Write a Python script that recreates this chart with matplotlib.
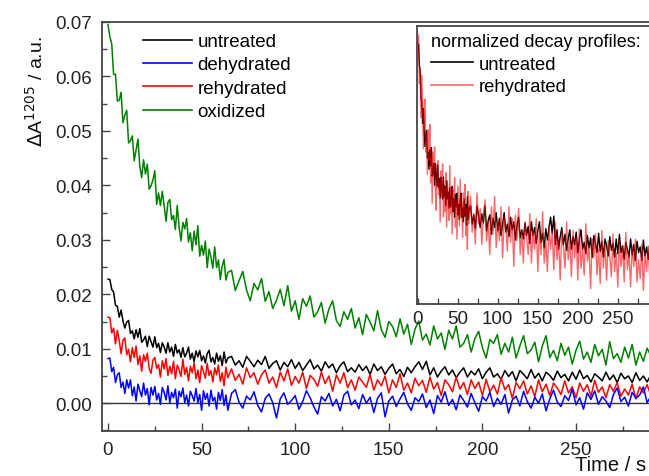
import numpy as np
import matplotlib
matplotlib.use("Agg")
import matplotlib.pyplot as plt
from matplotlib.ticker import MultipleLocator, FormatStrFormatter

plt.rcParams['font.family'] = ['Liberation Sans', 'DejaVu Sans']

# time grid: 1 s steps up to 64 s, then 2 s steps
time_early = list(range(0, 65))
time_late = list(range(66, 291, 2))
time_s = np.array(time_early + time_late, dtype=float)

# values in 10^-3 a.u.
oxidized_m = [
    69.5, 67.3, 66.0, 60.4, 60.4, 55.5, 55.6, 57.1, 51.5, 52.9,
    53.8, 47.8, 48.2, 49.1, 44.5, 46.5, 48.5, 43.5, 41.4, 44.7,
    42.1, 43.9, 39.3, 39.9, 41.0, 42.7, 36.5, 38.6, 36.3, 38.9,
    36.3, 33.4, 36.9, 37.4, 33.7, 34.5, 31.9, 36.3, 32.3, 29.8,
    33.2, 32.0, 33.9, 29.6, 31.3, 28.0, 31.6, 29.1, 32.6, 27.0,
    29.0, 27.2, 29.8, 24.9, 28.3, 26.8, 24.8, 28.7, 24.9, 26.3,
    22.7, 25.2, 26.4, 22.6, 24.0,
    24.4, 20.7, 22.5, 24.2, 20.8, 18.8, 22.0, 20.8, 22.9, 18.7,
    20.5, 17.4, 18.9, 20.9, 17.9, 21.6, 16.9, 18.8, 15.4, 19.2,
    17.8, 19.7, 15.8, 16.8, 18.5, 14.7, 17.3, 18.8, 15.2, 14.1,
    16.8, 15.4, 17.4, 13.8, 15.7, 12.6, 16.3, 14.9, 13.3, 17.0,
    13.5, 12.1, 15.0, 14.1, 12.2, 15.5, 12.7, 14.5, 10.8, 13.6,
    15.1, 11.6, 12.7, 10.7, 14.2, 11.8, 12.9, 9.9, 13.4, 11.8,
    14.2, 10.3, 11.0, 12.6, 9.4, 11.9, 13.2, 10.2, 8.3, 11.7,
    11.0, 12.6, 9.0, 11.0, 9.4, 12.1, 8.3, 10.5, 12.4, 9.1,
    9.8, 11.2, 7.6, 10.5, 12.4, 8.4, 9.7, 7.8, 11.0, 8.8,
    10.3, 7.2, 9.7, 11.4, 8.1, 9.4, 7.5, 10.8, 8.7, 9.9,
    7.0, 11.3, 8.2, 9.1, 7.5, 10.3, 8.3, 10.8, 7.0, 9.4,
    7.7, 10.1, 8.7,
]

untreated_m = [
    22.8, 22.7, 20.9, 20.4, 18.0, 17.8, 15.8, 17.1, 15.1, 13.8,
    14.9, 15.2, 12.8, 13.3, 11.8, 13.5, 12.1, 13.7, 11.2, 11.6,
    12.3, 10.4, 12.3, 11.3, 10.3, 12.2, 10.2, 11.0, 9.3, 11.1,
    10.3, 9.2, 11.1, 9.4, 10.3, 8.6, 10.8, 9.2, 9.8, 8.4,
    10.2, 8.5, 9.2, 10.3, 8.1, 9.2, 7.6, 9.6, 8.5, 9.7,
    7.8, 8.7, 7.4, 9.1, 9.7, 7.6, 8.4, 7.2, 9.2, 7.7,
    8.7, 6.9, 9.4, 7.4, 8.3,
    8.6, 7.0, 7.8, 6.6, 8.6, 7.7, 6.7, 7.9, 7.1, 8.6,
    6.4, 7.3, 7.8, 6.1, 7.5, 6.7, 8.0, 6.4, 7.5, 6.0,
    7.0, 8.0, 6.3, 7.0, 5.9, 7.6, 6.5, 7.2, 5.6, 6.9,
    7.6, 5.8, 6.5, 5.7, 7.1, 6.0, 6.8, 5.3, 7.2, 6.0,
    6.7, 5.3, 6.4, 7.2, 5.4, 6.2, 4.9, 6.6, 5.6, 6.7,
    7.6, 6.2, 7.7, 5.2, 6.5, 4.8, 5.9, 6.7, 5.2, 6.1,
    4.7, 5.7, 6.5, 4.8, 5.9, 5.2, 6.3, 4.5, 5.7, 6.5,
    4.8, 5.4, 4.4, 6.0, 4.9, 5.8, 4.1, 6.0, 5.3, 4.5,
    6.2, 4.6, 5.5, 4.1, 5.7, 5.1, 4.2, 5.9, 4.7, 5.3,
    4.1, 5.7, 4.4, 6.1, 4.5, 5.1, 3.9, 5.4, 4.8, 4.1,
    5.7, 4.3, 5.2, 3.8, 5.5, 4.5, 5.0, 3.8, 5.6, 4.2,
    5.0, 3.9, 5.2,
]

rehydrated_m = [
    15.8, 15.7, 12.9, 13.8, 10.9, 13.4, 11.5, 9.1, 11.5, 12.0,
    8.9, 9.9, 7.6, 10.2, 8.4, 10.5, 7.1, 8.7, 5.9, 8.9,
    7.7, 9.2, 6.4, 5.5, 7.9, 8.4, 6.4, 7.1, 4.8, 7.8,
    6.3, 8.2, 5.1, 6.8, 5.4, 7.7, 4.5, 7.0, 6.1, 4.9,
    8.1, 5.3, 6.6, 4.1, 6.8, 5.6, 7.4, 4.5, 6.1, 3.8,
    6.9, 5.8, 4.6, 7.3, 5.1, 6.0, 3.9, 6.5, 5.2, 7.0,
    4.0, 5.6, 3.2, 6.6, 4.7,
    6.3, 4.2, 5.3, 3.5, 6.5, 4.7, 5.6, 3.5, 5.2, 6.1,
    3.7, 4.8, 2.9, 5.7, 4.1, 6.3, 3.3, 4.9, 3.7, 5.7,
    2.7, 5.1, 4.4, 3.1, 5.7, 3.6, 5.0, 2.2, 5.2, 3.7,
    5.6, 2.9, 4.3, 2.4, 4.8, 3.9, 2.9, 5.3, 2.4, 4.3,
    3.2, 5.0, 1.9, 4.3, 2.9, 5.4, 2.4, 3.7, 1.9, 4.6,
    3.2, 4.2, 2.0, 4.8, 2.6, 3.8, 1.4, 4.3, 3.4, 2.1,
    4.8, 2.6, 3.8, 1.6, 4.3, 2.7, 3.9, 1.4, 4.4, 2.1,
    3.3, 1.7, 4.7, 2.5, 3.4, 0.9, 3.8, 2.7, 4.1, 1.7,
    3.2, 1.2, 4.3, 2.1, 3.5, 1.4, 3.7, 2.8, 1.6, 4.1,
    1.9, 3.0, 1.0, 3.7, 2.2, 3.4, 1.3, 4.2, 2.0, 3.0,
    1.0, 3.4, 2.2, 3.8, 1.3, 2.6, 1.5, 3.5, 0.8, 3.0,
    1.9, 3.4, 1.4,
]

dehydrated_m = [
    8.2, 8.3, 5.8, 6.6, 3.8, 5.2, 5.6, 2.9, 3.9, 1.8,
    4.3, 2.8, 4.3, 1.4, 3.0, 0.4, 3.5, 2.3, 1.2, 3.7,
    1.5, 2.7, -0.3, 2.9, 1.5, 3.1, 0.6, 1.8, -0.2, 2.9,
    2.0, 0.6, 3.2, 0.1, 2.0, 1.0, 2.6, -0.9, 2.2, 1.2,
    2.8, 0.1, 1.5, -0.5, 2.2, 1.4, 0.4, 2.7, 0.1, 1.6,
    -1.3, 2.3, 0.7, 1.8, -0.5, 2.4, 0.4, 1.1, -1.1, 2.0,
    0.5, 2.5, -0.4, 1.5, -1.3,
    1.8, 2.5, 0.2, -0.9, 1.3, 0.6, 2.1, -0.4, -1.6, 0.9,
    1.7, 0.1, -2.7, 0.8, 1.9, -0.2, 0.5, 1.4, -1.1, 0.3,
    2.3, 1.0, -0.7, -2.0, 1.2, 0.4, 1.8, -0.5, 0.7, -1.4,
    1.5, 2.2, -0.3, 0.6, -1.0, 1.6, 0.0, 1.1, -1.7, 0.9,
    1.9, -2.5, 0.4, 1.3, -0.6, 0.8, 2.0, -0.1, -1.3, 1.0,
    0.3, 1.7, -0.8, 0.6, -1.9, 1.4, 0.2, 2.1, -0.4, 0.7,
    -1.2, 1.5, 0.5, -0.7, 1.8, 0.1, -1.5, 1.2, 0.4, 2.0,
    -0.6, 0.9, -0.2, 1.6, -1.8, 0.6, 1.3, -0.5, 2.2, 0.3,
    -0.9, 1.1, 0.0, 1.7, -1.4, 0.8, 2.4, 0.2, -0.6, 1.4,
    0.5, 2.6, -0.3, 1.0, -1.1, 1.9, 0.7, 2.3, -0.2, 1.2,
    0.4, -0.8, 1.6, 2.8, 0.3, 1.1, -0.5, 2.0, 0.9, 1.5,
    3.0, 0.1, 1.3,
]

series_labels = ["untreated", "dehydrated", "rehydrated", "oxidized"]
series_colors = ["#000000", "#0000ff", "#ff0000", "#008000"]
series_values = [untreated_m, dehydrated_m, rehydrated_m, oxidized_m]
draw_order = [0, 2, 1, 3]

main_xticks = [0, 50, 100, 150, 200, 250]
main_yticks = [0.00, 0.01, 0.02, 0.03, 0.04, 0.05, 0.06, 0.07]

W, H = 649, 477
fig = plt.figure(figsize=(W / 100, H / 100), dpi=100)

def fx(px):
    return px / W

def fy(py):
    return 1 - py / H

spine_col = "#444444"
fs = 13.5
lfs = 13.5

ax = fig.add_axes([fx(102), fy(432), fx(649) - fx(102), fy(23) - fy(432)])
ax.axhline(0, color="#333333", lw=1.0, zorder=1)
lines = {}
for i in draw_order:
    v = np.array(series_values[i]) * 1e-3
    ln, = ax.plot(time_s[:len(v)], v, color=series_colors[i], lw=1.1,
                  label=series_labels[i], zorder=2)
    lines[i] = ln
ax.set_xlim(-3.2, 289)
ax.set_ylim(-0.0051, 0.07)
ax.set_xticks(main_xticks)
ax.set_yticks(main_yticks)
ax.yaxis.set_major_formatter(FormatStrFormatter("%.2f"))
ax.xaxis.set_minor_locator(MultipleLocator(25))
ax.yaxis.set_minor_locator(MultipleLocator(0.005))
ax.tick_params(which="both", direction="in", labelsize=fs, colors="#222222")
ax.tick_params(which="major", length=6, width=1, pad=7, color=spine_col)
ax.tick_params(which="minor", length=3.5, width=1, color=spine_col)
for s in ["left", "bottom", "top"]:
    ax.spines[s].set_color(spine_col)
    ax.spines[s].set_linewidth(1.3)
ax.spines["right"].set_visible(False)

leg = ax.legend([lines[i] for i in range(4)], series_labels,
                loc="upper left", bbox_to_anchor=(fx(143), fy(34)),
                bbox_transform=fig.transFigure, frameon=False, fontsize=lfs,
                handlelength=2.6, handletextpad=0.3, labelspacing=0.33,
                borderpad=0, borderaxespad=0)
for h in leg.get_lines():
    h.set_linewidth(1.2)

fig.text(fx(36), fy(92), r"$\Delta$A$^{1205}$ / a.u.", rotation=90,
         ha="center", va="center", fontsize=14, color="#111111")
fig.text(fx(646), fy(466), "Time / s", ha="right", va="center",
         fontsize=14.5, color="#111111")

# inset: normalized decay profiles
ins = fig.add_axes([fx(417), fy(305), fx(649) - fx(417), fy(27) - fy(305)])
norm_u = np.array(untreated_m) / np.mean(untreated_m[:3])
norm_r = np.array(rehydrated_m) / np.mean(rehydrated_m[:3])
ins.plot(time_s[:len(norm_u)], norm_u, color="black", lw=1.0, label="untreated")
ins.plot(time_s[:len(norm_r)], norm_r, color="#ff0000", alpha=0.6, lw=1.0,
         label="rehydrated")
ins.set_xlim(-1, 289)
ins.set_ylim(0, 1.1)
ins.set_xticks(main_xticks)
ins.set_yticks([])
ins.xaxis.set_minor_locator(MultipleLocator(25))
ins.tick_params(which="both", direction="in", labelsize=fs, colors="#222222")
ins.tick_params(which="major", length=4, width=1, pad=4, color=spine_col)
ins.tick_params(which="minor", length=4, width=1, color=spine_col)
for s in ["left", "bottom", "top"]:
    ins.spines[s].set_color(spine_col)
    ins.spines[s].set_linewidth(1.3)
ins.spines["right"].set_visible(False)
ileg = ins.legend(loc="upper left", bbox_to_anchor=(fx(431), fy(34)),
                  bbox_transform=fig.transFigure, frameon=False, fontsize=13.2,
                  title="normalized decay profiles:", title_fontsize=13.0,
                  alignment="left", handlelength=2.3, handletextpad=0.3,
                  labelspacing=0.3, borderpad=0, borderaxespad=0)
for h in ileg.get_lines():
    h.set_linewidth(1.2)
    h.set_alpha(None)
ileg.get_lines()[1].set_color("#ff6666")

fig.savefig("out.png", dpi=100)
